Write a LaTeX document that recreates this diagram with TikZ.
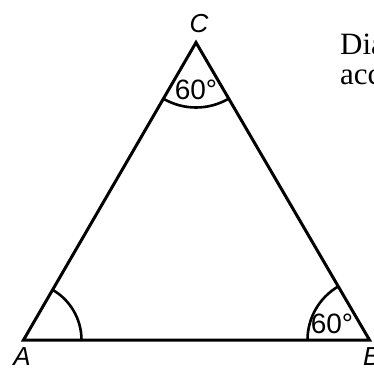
\documentclass[tikz,border=0pt]{standalone}
\usepackage{fontspec}
\setmainfont{Liberation Serif}
\newfontfamily\labfont{Liberation Sans}
\begin{document}
\begin{tikzpicture}[x=1pt,y=1pt,
  edge/.style={line width=3pt, line join=miter},
  anglearc/.style={line width=2.6pt},
  vlabel/.style={font=\labfont\fontsize{26}{26}\selectfont\itshape, inner sep=0pt},
  alabel/.style={font=\labfont\fontsize{28}{28}\selectfont, inner sep=0pt},
  note/.style={font=\fontsize{31}{31}\selectfont, inner sep=0pt, anchor=base west}]
\useasboundingbox (0,0) rectangle (374,370);
\coordinate (A) at (23.5,30);
\coordinate (B) at (369.5,30);
\coordinate (C) at (196,327.5);
\draw[edge] (A) -- (B) -- (C) -- cycle;
\draw[anglearc] ([shift={(0:58)}]A) arc[start angle=0, end angle=60, radius=58];
\draw[anglearc] ([shift={(180:62)}]B) arc[start angle=180, end angle=120, radius=62];
\draw[anglearc] ([shift={(240:65)}]C) arc[start angle=240, end angle=300, radius=65];
\node[vlabel] (lA) at (22,13) {A};
\node[vlabel, anchor=west] (lB) at (363,13) {B};
\node[vlabel] (lC) at (199,346) {C};
\node[alabel] (aC) at (196,280) {60°};
\node[alabel] (aB) at (332,46) {60°};
\node[note] (n1) at (340,315) {Dia};
\node[note] (n2) at (340,285) {acc};
\end{tikzpicture}
\end{document}
